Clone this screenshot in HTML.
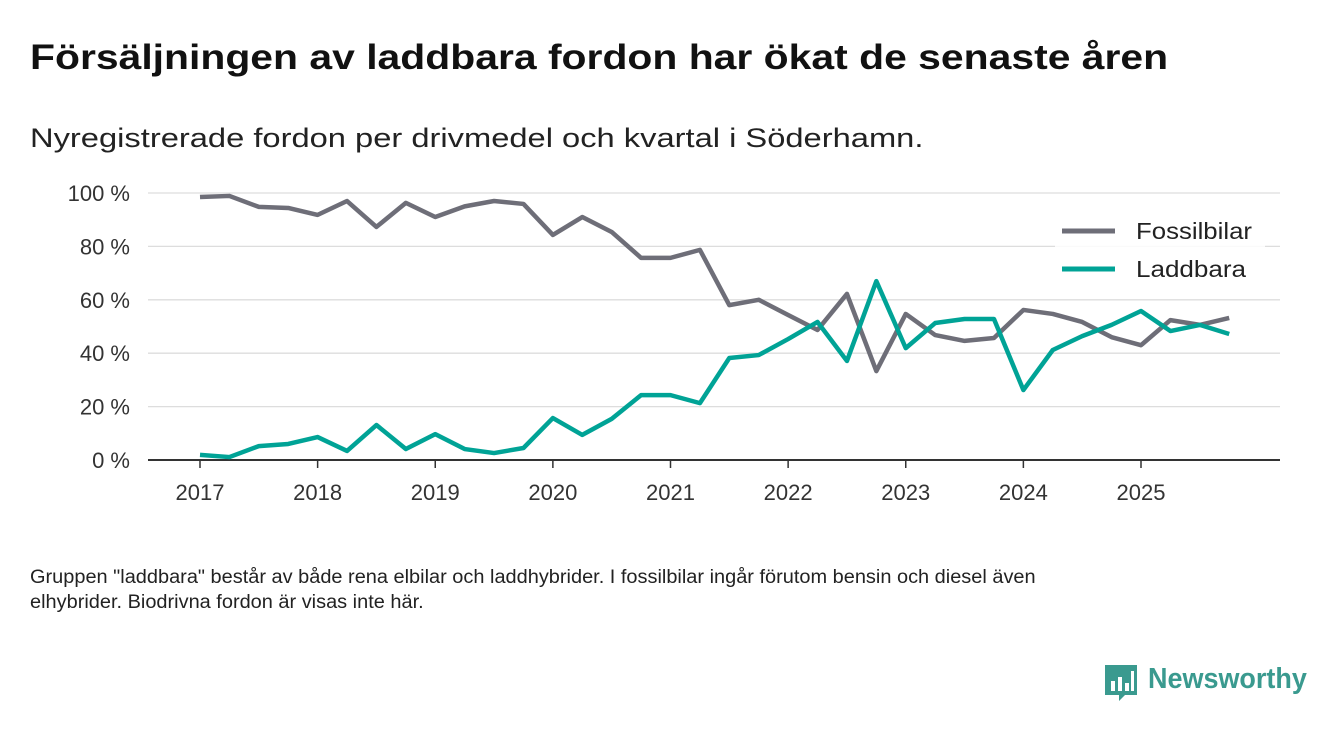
<!DOCTYPE html>
<html><head><meta charset="utf-8"><style>
body{margin:0;width:1340px;height:733px;background:#fff;font-family:"Liberation Sans",sans-serif;overflow:hidden;position:relative}
.t{position:absolute;white-space:nowrap;transform-origin:0 0}
</style></head><body>
<div class="t" style="left:30px;top:38px;font-size:35px;font-weight:bold;color:#111;transform:scaleX(1.168)">Försäljningen av laddbara fordon har ökat de senaste åren</div>
<div class="t" style="left:30px;top:123px;font-size:27px;color:#222;transform:scaleX(1.21)">Nyregistrerade fordon per drivmedel och kvartal i Söderhamn.</div>
<svg id="c" width="1340" height="520" style="position:absolute;left:0;top:0"></svg>
<div class="t" style="left:30px;top:565px;font-size:19px;line-height:25px;color:#222;transform:scaleX(1.05)">Gruppen "laddbara" består av både rena elbilar och laddhybrider. I fossilbilar ingår förutom bensin och diesel även<br>elhybrider. Biodrivna fordon är visas inte här.</div>
<div style="position:absolute;left:1103px;top:663px">
<svg width="36" height="40"><path d="M2 2h32v30h-12l-6 6v-6H2z" fill="#3a9a8f"/><rect x="8" y="18" width="4" height="10" fill="#fff"/><rect x="15" y="14" width="4" height="14" fill="#fff"/><rect x="22" y="20" width="4" height="8" fill="#fff"/><rect x="28" y="8" width="3" height="20" fill="#fff"/></svg>
<span class="t" style="left:45px;top:0;font-size:29px;font-weight:bold;color:#3a9a8f;transform:scaleX(0.93)">Newsworthy</span></div>
<script>
const years=['2017','2018','2019','2020','2021','2022','2023','2024','2025'];
const yTicks=[0,20,40,60,80,100];
const fossil=[98.5,98.9,94.8,94.4,91.8,97,87.3,96.3,91,95,97,95.9,84.3,91,85.4,75.7,75.7,78.7,58,60,54.3,48.7,62.2,33.3,54.7,46.8,44.6,45.7,56.2,54.7,51.7,46,43,52.4,50.6,53.2];
const laddbara=[1.9,1.1,5.2,6,8.6,3.4,13.1,4.1,9.7,4.1,2.6,4.5,15.7,9.4,15.4,24.3,24.3,21.3,38.2,39.3,45.3,51.7,37.1,67,41.9,51.3,52.8,52.8,26.2,41.2,46.4,50.6,55.8,48.3,50.6,47.2];
const NS='http://www.w3.org/2000/svg',svg=document.getElementById('c');
const x=i=>200+i*(941/32), y=v=>460-v*2.67;
function el(t,a,txt){const e=document.createElementNS(NS,t);for(const k in a)e.setAttribute(k,a[k]);if(txt!=null)e.textContent=txt;svg.appendChild(e);return e;}
yTicks.forEach(v=>{
 const g=el('line',{x1:148,x2:1280,y1:y(v),y2:y(v),stroke:v?'#ddd':'#333','stroke-width':v?1.3:2});
 
 
 const t=el('text',{x:130,y:y(v)+8,'text-anchor':'end','font-size':22,fill:'#333'},v+' %');
 
 
});
years.forEach((yr,k)=>{
 const xx=x(k*4);
 const l=el('line',{x1:xx,x2:xx,y1:460,y2:468,stroke:'#333','stroke-width':1.5});
 
 
 const t=el('text',{x:xx,y:500,'text-anchor':'middle','font-size':22,fill:'#333'},yr);
 
 
});
[[fossil,'#6e6e78','fossil-line'],[laddbara,'#00a396','laddbara-line']].forEach(([d,c,n])=>{
 const p=el('path',{d:d.map((v,i)=>(i?'L':'M')+x(i)+' '+y(v)).join(''),fill:'none',stroke:c,'stroke-width':4.5,'stroke-linejoin':'round'});
 
 
});
el('rect',{x:1055,y:210,width:210,height:80,fill:'#fff',opacity:0.85});
[['Fossilbilar','#6e6e78',231,116],['Laddbara','#00a396',269,110]].forEach(([lab,c,yy,w])=>{
 const l=el('line',{x1:1062,x2:1115,y1:yy,y2:yy,stroke:c,'stroke-width':5});
 
 
 const t=el('text',{x:1136,y:yy+8,'font-size':23,fill:'#222',textLength:w,lengthAdjust:'spacingAndGlyphs'},lab);
 
 
});
</script>
</body></html>
